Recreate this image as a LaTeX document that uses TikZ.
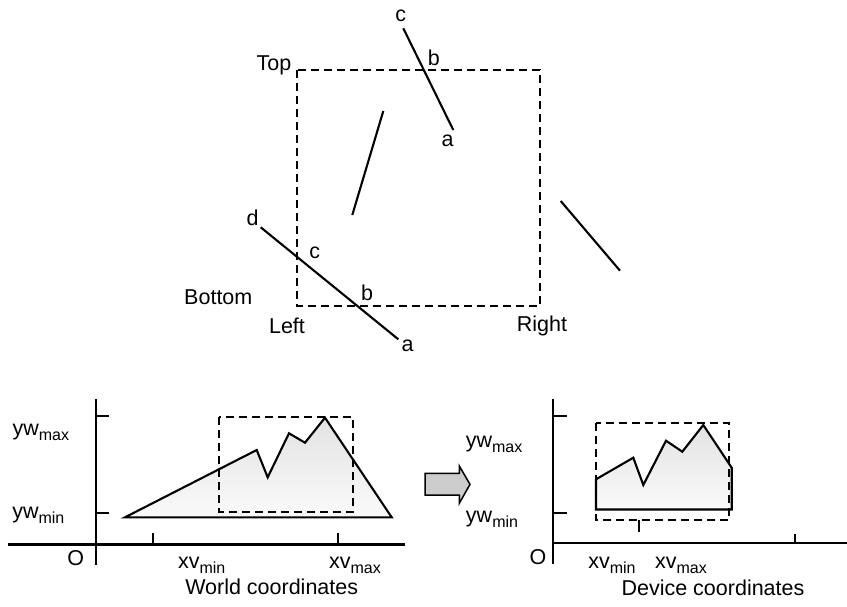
\documentclass[tikz,border=0pt]{standalone}
\usepackage{fontspec}
\setmainfont{Liberation Sans}
\newcommand{\lowtxt}[1]{\raisebox{-0.45ex}{\fontsize{16}{16}\selectfont #1}}
\begin{document}
\begin{tikzpicture}[x=1pt,y=-1pt,
  lbl/.style={inner sep=0pt,font=\fontsize{21.5}{23}\selectfont},
  seg/.style={line width=2.1pt},
  dbox/.style={line width=2.1pt,dash pattern=on 8pt off 5pt},
  axis/.style={line width=2.4pt},
  shp/.style={line width=2.1pt,line join=miter,top color=gray!22,bottom color=gray!4}]
\useasboundingbox (0,0) rectangle (847,606);
% ---------- top: clipping window ----------
\draw[dbox] (297,70) rectangle (540,306);
\coordinate (l1a) at (403.3,28.3); \coordinate (l1b) at (453.3,130);
\draw[seg] (l1a) -- (l1b);
\coordinate (l2a) at (383.3,111); \coordinate (l2b) at (352.3,215);
\draw[seg] (l2a) -- (l2b);
\coordinate (l3a) at (560.7,201); \coordinate (l3b) at (620,270.7);
\draw[seg] (l3a) -- (l3b);
\coordinate (l4a) at (260.7,227.3); \coordinate (l4b) at (398.3,339.3);
\draw[seg] (l4a) -- (l4b);
\node[lbl] (c1) at (400.8,16) {c};
\node[lbl] (b1) at (433.8,58) {b};
\node[lbl] (a1) at (447.5,141) {a};
\node[lbl] (d2) at (252.5,218) {d};
\node[lbl] (c2) at (314.7,253) {c};
\node[lbl] (b2) at (367,293) {b};
\node[lbl] (a2) at (407.5,345.5) {a};
\node[lbl] (top) at (274,65) {Top};
\node[lbl] (bottom) at (218.3,297.5) {Bottom};
\node[lbl] (left) at (287,326) {Left};
\node[lbl] (right) at (542,326) {Right};
% ---------- bottom left: world ----------
\draw[shp] (125,517.3) -- (256.7,450) -- (267.7,477.3) -- (289,433.3) -- (305,442.7) -- (325,417.7) -- (391.7,517.3) -- cycle;
\draw[dbox] (219.3,417.3) rectangle (353.3,511.7);
\draw[axis] (95.7,399) -- (95.7,565);
\draw[axis] (8,544.3) -- (405,544.3);
\draw[seg] (95.7,416) -- (109.3,416);
\draw[seg] (95.7,512.7) -- (109.3,512.7);
\draw[seg] (153.3,533.3) -- (153.3,544.3);
\draw[seg] (338.3,533.3) -- (338.3,544.3);
\node[lbl] (wymax) at (40.8,432) {yw\lowtxt{max}};
\node[lbl] (wymin) at (38.3,515) {yw\lowtxt{min}};
\node[lbl] (wo) at (75.8,558) {O};
\node[lbl] (wxmin) at (201.7,565) {xv\lowtxt{min}};
\node[lbl] (wxmax) at (355,565) {xv\lowtxt{max}};
\node[lbl] (wcap) at (271.7,587) {World coordinates};
% ---------- arrow ----------
\draw[line width=1.5pt,fill=gray!40,line join=miter] (425,473.3) -- (459.3,473.3) -- (459.3,466) -- (470,484.3) -- (459.3,503.3) -- (459.3,495) -- (425,495) -- cycle;
% ---------- bottom right: device ----------
\draw[shp] (596,509.5) -- (596,479.3) -- (633.3,457.7) -- (643.3,485) -- (666,440.7) -- (682.3,451.7) -- (703.3,425) -- (731.7,467.7) -- (731.7,509.5) -- cycle;
\draw[dbox] (596,423.3) rectangle (729.3,520);
\draw[seg] (639.3,520) -- (639.3,531.7);
\draw[axis] (552.7,399) -- (552.7,564);
\draw[axis] (552.7,542.7) -- (847,542.7);
\draw[seg] (552.7,416) -- (566.7,416);
\draw[seg] (552.7,513.3) -- (566.7,513.3);
\draw[seg] (795,534) -- (795,542.7);
\node[lbl] (dymax) at (494,444) {yw\lowtxt{max}};
\node[lbl] (dymin) at (492,519) {yw\lowtxt{min}};
\node[lbl] (do) at (538,557.5) {O};
\node[lbl] (dxmin) at (612,565) {xv\lowtxt{min}};
\node[lbl] (dxmax) at (681,565) {xv\lowtxt{max}};
\node[lbl] (dcap) at (713,588) {Device coordinates};
\end{tikzpicture}
\end{document}
